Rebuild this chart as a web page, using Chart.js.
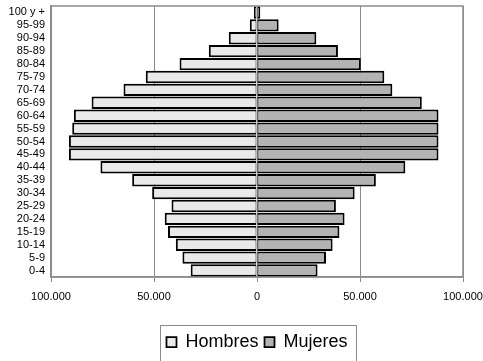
<!DOCTYPE html>
<html>
<head>
<meta charset="utf-8">
<script src="https://cdn.jsdelivr.net/npm/chart.js@4/dist/chart.umd.min.js"></script>
<style>
  html, body { margin: 0; padding: 0; background: #fff; }
  #wrap { width: 483px; height: 361px; position: relative; }
</style>
</head>
<body>
<div id="wrap"><canvas id="c" width="483" height="361"></canvas></div>
<script>
const categories = ['100 y +','95-99','90-94','85-89','80-84','75-79','70-74','65-69','60-64','55-59','50-54','45-49','40-44','35-39','30-34','25-29','20-24','15-19','10-14','5-9','0-4'];
const hombres = [1500,3500,13700,23400,37600,54000,64800,80300,88900,89700,91300,91300,76000,60600,50900,41500,44800,43200,39400,36200,32200];
const mujeres = [1600,10500,28800,39300,50400,61800,65700,80000,88100,88100,88100,88100,72000,57700,47400,38300,42500,40000,36700,33500,29400];
const xTicks = [-100000,-50000,0,50000,100000];

function fmt(v){
  return String(Math.abs(v)).replace(/\B(?=(\d{3})+(?!\d))/g, '.');
}

const FONT = "'Liberation Sans', Arial, sans-serif";

const frame = {
  id: 'frame',
  afterLayout(chart){
    const lg = chart.legend, a = chart.chartArea;
    if (lg) { lg.left = a.left; lg.right = a.right; }
  },
  afterDatasetsDraw(chart){
    const a = chart.chartArea, ctx = chart.ctx;
    ctx.save();
    ctx.strokeStyle = '#8c8c8c';
    ctx.lineWidth = 1.5;
    ctx.strokeRect(a.left, a.top, a.right - a.left, a.bottom - a.top);
    ctx.restore();
  },
  afterDraw(chart){
    const lg = chart.legend;
    if (!lg || !lg.legendHitBoxes || !lg.legendHitBoxes.length) return;
    const hb = lg.legendHitBoxes;
    const l = hb[0].left - 6;
    const r = hb[hb.length-1].left + hb[hb.length-1].width + 9;
    const t = 325;
    const ctx = chart.ctx;
    ctx.save();
    ctx.strokeStyle = '#8c8c8c';
    ctx.lineWidth = 1;
    ctx.strokeRect(Math.round(l)+0.5, t+0.5, Math.round(r-l), 60);
    ctx.restore();
  }
};

new Chart(document.getElementById('c'), {
  type: 'bar',
  data: {
    labels: categories,
    datasets: [
      {
        label: 'Hombres',
        data: hombres.map(v => -v),
        backgroundColor: '#e9e9e9',
        borderColor: '#000',
        borderWidth: {top:2, bottom:2, left:2, right:1},
        borderSkipped: false,
        barPercentage: 0.96,
        categoryPercentage: 1.0
      },
      {
        label: 'Mujeres',
        data: mujeres,
        backgroundColor: '#b3b3b3',
        borderColor: '#000',
        borderWidth: {top:2, bottom:2, left:1, right:2},
        borderSkipped: false,
        barPercentage: 0.96,
        categoryPercentage: 1.0
      }
    ]
  },
  options: {
    indexAxis: 'y',
    responsive: false,
    animation: false,
    devicePixelRatio: 1,
    layout: { padding: { top: 6, right: 20, left: 0, bottom: 0 } },
    scales: {
      x: {
        stacked: true,
        min: -100000,
        max: 100000,
        afterBuildTicks(s){ s.ticks = xTicks.map(v => ({value: v})); },
        afterFit(s){ s.height = 50; s.paddingLeft = 0; s.paddingRight = 0; },
        ticks: {
          callback: v => fmt(v),
          color: '#000',
          font: { family: FONT, size: 11 },
          maxRotation: 0,
          padding: 8
        },
        grid: { color: '#8c8c8c', lineWidth: 1, tickLength: 5, drawTicks: true },
        border: { color: '#8c8c8c', width: 1.5 }
      },
      y: {
        stacked: true,
        afterFit(s){ s.width = 51; s.paddingTop = 0; s.paddingBottom = 0; },
        ticks: {
          color: '#000',
          font: { family: FONT, size: 11 },
          padding: 6,
          autoSkip: false
        },
        grid: { display: false, drawTicks: false, tickLength: 0 },
        border: { color: '#8c8c8c', width: 1.5 }
      }
    },
    plugins: {
      legend: {
        position: 'bottom',
        labels: {
          color: '#000',
          font: { family: FONT, size: 18 },
          boxWidth: 10,
          boxHeight: 10,
          padding: 6
        }
      },
      tooltip: { enabled: false }
    }
  },
  plugins: [frame]
});
</script>
</body>
</html>
